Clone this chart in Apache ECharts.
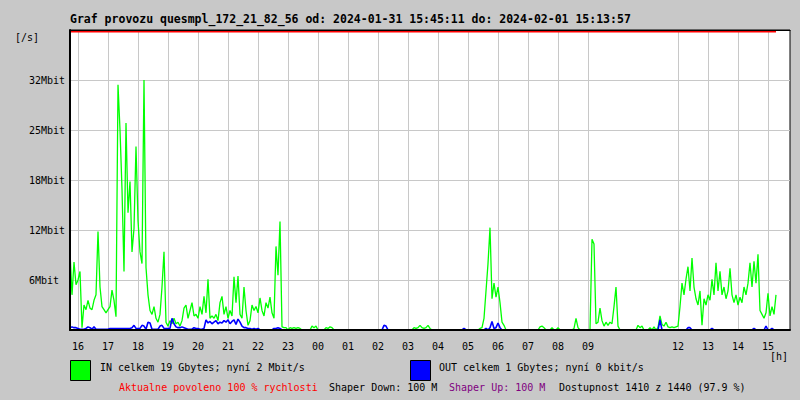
<!DOCTYPE html>
<html>
<head>
<meta charset="utf-8">
<script src="https://cdn.jsdelivr.net/npm/echarts@6/dist/echarts.min.js"></script>
<style>
html,body{margin:0;padding:0;background:#c8c8c8;}
#chart{width:800px;height:400px;}
</style>
</head>
<body>
<div id="chart"></div>
<script>
// ---- data (Mbit/s), one sample every 4 minutes from 2024-01-31 15:45:11 ----
const titleText = 'Graf provozu quesmpl_172_21_82_56 od: 2024-01-31 15:45:11 do: 2024-02-01 15:13:57';
const startTime = [2024, 0, 31, 15, 45, 11];
const sampleMinutes = 4;

const inMbit = [
10.0,4.5,8.7,5.8,6.4,7.5,0.3,3.2,2.6,3.8,2.8,2.6,3.8,4.5,12.6,5.5,3.0,2.6,2.2,2.6,
3.0,5.1,3.8,1.7,31.4,25.6,18.0,7.5,26.5,15.0,19.0,10.0,13.0,23.5,14.0,10.0,8.5,32.0,8.0,4.5,
2.5,2.0,3.0,1.5,1.0,2.0,5.5,10.0,1.0,0.5,1.2,0.8,1.5,0.8,1.0,0.5,1.2,2.8,3.2,1.5,
2.5,3.5,1.8,2.0,1.5,3.0,2.0,4.3,2.2,6.5,1.5,1.8,1.5,2.0,1.2,3.5,4.3,2.0,3.0,1.5,
2.5,1.8,6.8,3.5,6.9,2.0,1.5,5.5,2.5,0.6,1.2,3.2,2.5,3.0,2.2,4.1,2.5,1.8,3.5,2.8,
4.2,2.2,1.5,10.7,7.0,13.9,0.4,0.3,0.3,0,0.3,0.2,0.3,0.2,0.3,0.2,0,0,0,0,
0,0.5,0.3,0.5,0,0,0,0,0.3,0.2,0.4,0.3,0,0,0,0,0,0,0,0,
0,0,0,0,0,0,0,0,0,0,0,0,0,0,0,0,0,0,0,0,
0,0,0,0,0,0,0,0,0,0,0,0,0.3,0.2,0.3,0.6,0.3,0.2,0.3,0.6,
0.2,0,0,0,0,0,0,0,0,0,0,0,0,0,0,0,0,0,0,0,
0,0,0,0,0,0.2,0.3,1.5,5.0,8.5,13.1,4.0,6.0,4.2,5.5,3.5,1.0,0.6,0,0,
0,0,0,0,0,0,0,0,0,0,0,0,0,0,0,0.4,0.5,0.3,0,0,
0,0.3,0,0,0.3,0,0,0,0,0,0,0,0.2,1.5,0.3,0,0,0,0,0,
0,11.6,11.0,0.8,1.0,2.8,1.2,0.5,1.0,0.6,1.0,0.8,3.0,5.5,0.5,0,0,0,0,0,
0,0,0,0,0.6,0.3,0.5,0,0,0,0.3,0,0.4,0,0.3,1.8,0.7,0.5,1.0,0.4,
0.3,0.4,0.3,0.4,0.5,3.0,6.0,4.5,6.5,8.1,5.0,9.2,5.5,4.0,3.2,5.0,0.6,4.0,3.2,4.5,
3.8,6.5,4.5,8.6,5.0,7.5,4.5,5.5,4.0,5.0,7.9,4.5,3.5,4.5,3.2,4.2,3.5,5.5,4.5,6.0,
8.6,5.5,8.8,6.0,9.7,2.5,2.0,1.5,2.2,4.7,1.8,3.0,2.0,4.5,null,null,null,null,null,null,
null
];

const outMbit = [
0.3,0.4,0.3,0.3,0.2,0.1,0.1,0.1,0.2,0.4,0.3,0.1,0.4,0.1,0.1,0.1,0.1,0.1,0.1,0.1,
0.2,0.2,0.2,0.2,0.2,0.2,0.2,0.2,0.2,0.2,0.2,0.3,0.6,0.2,0.2,0.2,0.6,0.5,0.1,1.0,
0.9,0.1,0.1,0.1,0.1,0.5,0.6,0.2,0.2,0.2,0.2,1.5,0.8,0.4,0.3,0.3,0.4,0.3,0.2,0.1,
0.1,0.1,0.3,0.2,0.2,0.1,0.1,0.2,1.3,0.9,1.1,0.8,1.0,1.2,0.8,1.0,0.9,1.2,1.0,1.3,
0.8,1.1,1.3,0.7,1.4,1.0,0.5,0.3,0.3,0.2,0.2,0.1,0.2,0.1,0.2,0,0,0,0,0,
0,0,0.2,0.2,0.3,0.2,0,0,0,0,0,0,0,0,0,0,0,0,0,0,
0,0,0,0,0,0,0,0,0,0,0,0,0,0,0,0,0,0,0,0,
0,0,0,0,0,0,0,0,0,0,0,0,0,0,0,0,0,0.6,0.5,0,
0,0,0,0,0,0,0,0,0,0,0,0,0,0,0,0,0,0,0,0,
0,0,0,0,0,0,0,0,0,0,0,0,0,0,0,0,0,0.2,0,0,
0,0,0,0,0,0,0,0,0.2,0,0.3,1.1,0.2,0.3,0.9,0.3,0,0,0,0,
0,0,0,0,0,0,0,0,0,0,0,0,0,0,0,0,0,0,0,0,
0,0,0,0,0,0,0,0,0,0,0,0,0,0,0,0,0,0,0,0,
0,0,0,0,0,0,0,0,0,0,0,0,0,0,0,0,0,0,0,0,
0,0,0,0,0,0,0,0,0,0,0,0,0,0,0,1.3,0,0,0,0,
0,0,0,0,0,0,0,0,0,0.3,0.3,0,0,0,0,0,0,0,0,0,
0,0.2,0,0,0,0,0,0,0,0,0,0,0,0,0,0,0,0,0,0,
0,0,0.2,0,0,0,0,0,0.5,0,0,0.2,0,0,null,null,null,null,null,null,
null
];

const limitMbit = 100;           // allowed rate (100 M), drawn clipped just under the top edge
const yStep = 6.4;
const yMax = 38.4;
const plotHeightPx = 300;
const yTickLabels = ['6Mbit','12Mbit','18Mbit','25Mbit','32Mbit'];
// hour ticks, first at sample index 4, then every 15 samples (1 h); '' = no tick
const firstHourIndex = 4;
const samplesPerHour = 15;
const hourTicks = ['16','17','18','19','20','21','22','23','00','01','02','03','04','05','06','07','08','09','','','12','13','14','15'];

const legendIn = 'IN celkem 19 Gbytes; nyní 2 Mbit/s';
const legendOut = 'OUT celkem 1 Gbytes; nyní 0 kbit/s';
const footer = [
  {text:'Aktualne povoleno 100 % rychlosti', color:'#ff0000'},
  {text:'Shaper Down: 100 M', color:'#000000'},
  {text:'Shaper Up: 100 M', color:'#800080'},
  {text:'Dostupnost 1410 z 1440 (97.9 %)', color:'#000000'}
];

// ---- build ----
const pad = n => String(n).padStart(2,'0');
const t0 = new Date(...startTime).getTime();
const categories = inMbit.map((_, i) => {
  const d = new Date(t0 + i * sampleMinutes * 60000);
  return pad(d.getHours()) + ':' + pad(d.getMinutes());
});
const hourAt = idx => {
  if (idx < firstHourIndex || (idx - firstHourIndex) % samplesPerHour !== 0) return '';
  return hourTicks[(idx - firstHourIndex) / samplesPerHour] || '';
};
// clip the limit to the visible range (just below the top border)
const limitShown = Math.min(limitMbit, yMax - 1.5 * yMax / plotHeightPx);
const limitData = inMbit.map(v => v == null ? null : limitShown);

const MONO = '"DejaVu Sans Mono", "Liberation Mono", monospace';
const chart = echarts.init(document.getElementById('chart'), null, {renderer:'svg'});
const footerX = [119, 329, 449, 559];

chart.setOption({
  animation: false,
  backgroundColor: '#c8c8c8',
  textStyle: {fontFamily: MONO},
  grid: {left: 70, top: 30, width: 720, height: plotHeightPx, show: true,
         backgroundColor: '#ffffff', borderColor: '#000000', borderWidth: 1},
  xAxis: [
    {type: 'category', data: categories, boundaryGap: false, position: 'bottom',
     axisLine: {show: false}, axisTick: {show: false},
     axisLabel: {interval: (i) => hourAt(i) !== '', formatter: (v, i) => hourAt(i),
                 fontFamily: MONO, fontSize: 10, color: '#000', margin: 16, verticalAlign: 'middle'},
     splitLine: {show: true, interval: (i) => hourAt(i) !== '', lineStyle: {color: '#c8c8c8', width: 1}}},
    {type: 'value', min: 0, max: 1, position: 'bottom', z: 10,
     axisLine: {show: true, lineStyle: {color: '#000', width: 2}},
     axisTick: {show: false}, axisLabel: {show: false}, splitLine: {show: false}},
    {type: 'value', min: 0, max: 1, position: 'top', z: 10,
     axisLine: {show: true, lineStyle: {color: '#000', width: 1}},
     axisTick: {show: false}, axisLabel: {show: false}, splitLine: {show: false}}
  ],
  yAxis: [
    {type: 'value', min: 0, max: yMax, interval: yStep, position: 'left',
     axisLine: {show: false}, axisTick: {show: false},
     axisLabel: {fontFamily: MONO, fontSize: 10, color: '#000', align: 'left', margin: 41,
                 formatter: v => yTickLabels[Math.round(v / yStep) - 1] || ''},
     splitLine: {show: true, lineStyle: {color: '#c8c8c8', width: 1}}},
    {type: 'value', min: 0, max: 1, position: 'left', z: 10,
     axisLine: {show: true, lineStyle: {color: '#000', width: 2}},
     axisTick: {show: false}, axisLabel: {show: false}, splitLine: {show: false}}
  ],
  series: [
    {name: 'IN', type: 'line', data: inMbit, showSymbol: false, symbol: 'none',
     lineStyle: {color: '#00ff00', width: 1.3}, clip: true, silent: true, z: 2},
    {name: 'OUT', type: 'line', data: outMbit, showSymbol: false, symbol: 'none',
     lineStyle: {color: '#0000ff', width: 1.6}, clip: true, silent: true, z: 3},
    {name: 'limit', type: 'line', data: limitData, showSymbol: false, symbol: 'none',
     lineStyle: {color: '#ff0000', width: 2}, clip: true, silent: true, z: 4}
  ],
  graphic: [
    {type: 'text', left: 70, top: 13, style: {text: titleText, font: 'bold 11.5px ' + MONO, fill: '#000'}},
    {type: 'text', x: 15, y: 37.5, style: {text: '[/s]', font: '10px ' + MONO, fill: '#000', verticalAlign: 'middle'}},
    {type: 'text', x: 770, y: 356, style: {text: '[h]', font: '10px ' + MONO, fill: '#000', verticalAlign: 'middle'}},
    {type: 'rect', shape: {x: 70.5, y: 360.5, width: 20, height: 20}, style: {fill: '#00ff00', stroke: '#000', lineWidth: 1}},
    {type: 'text', x: 100, y: 367, style: {text: legendIn, font: '10px ' + MONO, fill: '#000', verticalAlign: 'middle'}},
    {type: 'rect', shape: {x: 410.5, y: 360.5, width: 20, height: 20}, style: {fill: '#0000ff', stroke: '#000', lineWidth: 1}},
    {type: 'text', x: 439, y: 367, style: {text: legendOut, font: '10px ' + MONO, fill: '#000', verticalAlign: 'middle'}}
  ].concat(footer.map((f, k) => ({
    type: 'text', x: footerX[k], y: 387,
    style: {text: f.text, font: '10px ' + MONO, fill: f.color, verticalAlign: 'middle'}
  })))
});
</script>
</body>
</html>
